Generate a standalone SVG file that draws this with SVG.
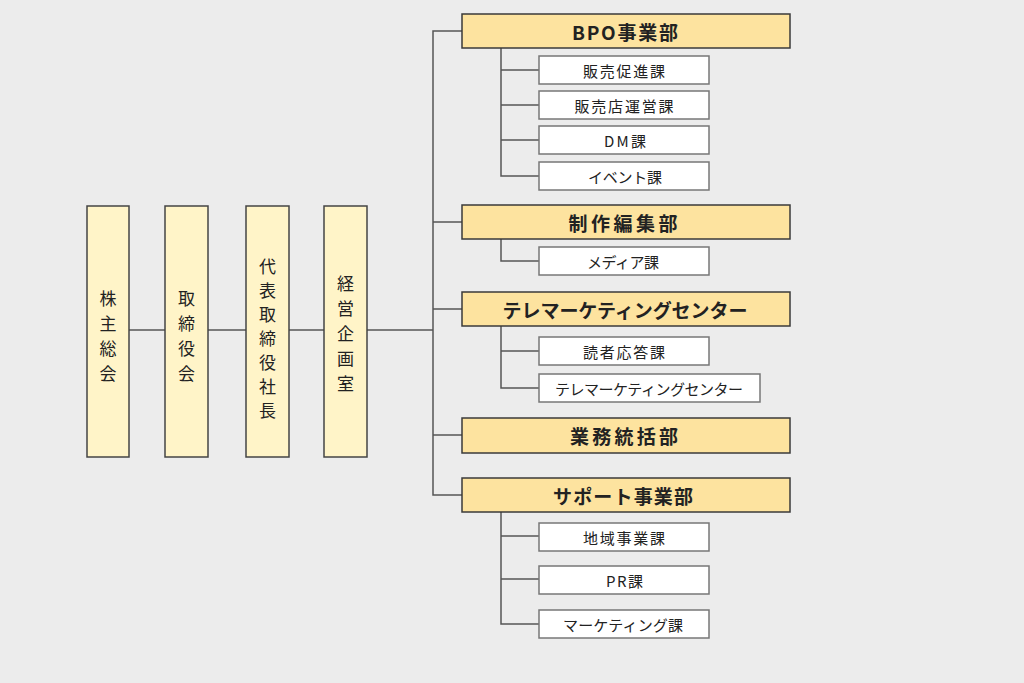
<svg xmlns="http://www.w3.org/2000/svg" width="1024" height="683" viewBox="0 0 1024 683">
<style>
.bg{fill:#ececec}
.top{fill:#fff4c8;stroke:#444;stroke-width:1.5}
.dept{fill:#fde39f;stroke:#3a3a3a;stroke-width:1.5}
.sec{fill:#fff;stroke:#777;stroke-width:1.5}
.ln{fill:none;stroke:#555;stroke-width:1.5}
text{font-family:"Noto Sans CJK JP","Noto Sans",sans-serif;fill:#222;text-anchor:middle;dominant-baseline:central}
.vt{font-size:17px}
.dt{font-size:19px;font-weight:bold}
.st{font-size:15px}
</style>
<rect class="bg" x="0" y="0" width="1024" height="683"/>
<g id="connectors">
<path class="ln" d="M129 330H165M208 330H246M289 330H324M367 330H433"/>
<path class="ln" d="M462 31H433V495H462M433 222H462M433 309H462M433 435H462"/>
<path class="ln" d="M501 48V176H539M501 70H539M501 105H539M501 140H539"/>
<path class="ln" d="M501 239V261H539"/>
<path class="ln" d="M501 326V388H539M501 351H539"/>
<path class="ln" d="M501 512V624H539M501 536H539M501 579H539"/>
</g>
<g id="n-shareholders"><rect class="top" x="87" y="206" width="42" height="251"/>
<text class="vt"><tspan x="108" y="297">株</tspan><tspan x="108" y="322">主</tspan><tspan x="108" y="347">総</tspan><tspan x="108" y="372">会</tspan></text></g>
<g id="n-board"><rect class="top" x="165" y="206" width="43" height="251"/>
<text class="vt"><tspan x="186.5" y="297">取</tspan><tspan x="186.5" y="322">締</tspan><tspan x="186.5" y="347">役</tspan><tspan x="186.5" y="372">会</tspan></text></g>
<g id="n-president"><rect class="top" x="246" y="206" width="43" height="251"/>
<text class="vt"><tspan x="267.5" y="265">代</tspan><tspan x="267.5" y="289">表</tspan><tspan x="267.5" y="313">取</tspan><tspan x="267.5" y="337">締</tspan><tspan x="267.5" y="361">役</tspan><tspan x="267.5" y="385">社</tspan><tspan x="267.5" y="409">長</tspan></text></g>
<g id="n-planning"><rect class="top" x="324" y="206" width="43" height="251"/>
<text class="vt"><tspan x="345.5" y="282">経</tspan><tspan x="345.5" y="307">営</tspan><tspan x="345.5" y="332">企</tspan><tspan x="345.5" y="357">画</tspan><tspan x="345.5" y="382">室</tspan></text></g>
<g id="d-bpo"><rect class="dept" x="462" y="14" width="328" height="34"/><text class="dt" x="625" y="31" textLength="106" lengthAdjust="spacing">BPO事業部</text></g>
<g id="s-promo"><rect class="sec" x="539" y="56" width="170" height="28"/><text class="st" x="624" y="70" textLength="82" lengthAdjust="spacing">販売促進課</text></g>
<g id="s-store"><rect class="sec" x="539" y="91" width="170" height="28"/><text class="st" x="624" y="105" textLength="99" lengthAdjust="spacing">販売店運営課</text></g>
<g id="s-dm"><rect class="sec" x="539" y="126" width="170" height="28"/><text class="st" x="625" y="140" textLength="42" lengthAdjust="spacing">DM課</text></g>
<g id="s-event"><rect class="sec" x="539" y="162" width="170" height="28"/><text class="st" x="625" y="176" textLength="74" lengthAdjust="spacing">イベント課</text></g>
<g id="d-edit"><rect class="dept" x="462" y="205" width="328" height="34"/><text class="dt" x="623" y="222" textLength="109" lengthAdjust="spacing">制作編集部</text></g>
<g id="s-media"><rect class="sec" x="539" y="247" width="170" height="28"/><text class="st" x="623" y="261" textLength="72" lengthAdjust="spacing">メディア課</text></g>
<g id="d-tele"><rect class="dept" x="462" y="292" width="328" height="34"/><text class="dt" x="625" y="309" textLength="245" lengthAdjust="spacing">テレマーケティングセンター</text></g>
<g id="s-reader"><rect class="sec" x="539" y="337" width="170" height="28"/><text class="st" x="624" y="351" textLength="82" lengthAdjust="spacing">読者応答課</text></g>
<g id="s-tele"><rect class="sec" x="539" y="374" width="221" height="28"/><text class="st" x="649" y="388" textLength="188" lengthAdjust="spacing">テレマーケティングセンター</text></g>
<g id="d-ops"><rect class="dept" x="462" y="418" width="328" height="35"/><text class="dt" x="624" y="435" textLength="108" lengthAdjust="spacing">業務統括部</text></g>
<g id="d-support"><rect class="dept" x="462" y="478" width="328" height="34"/><text class="dt" x="623" y="495" textLength="140" lengthAdjust="spacing">サポート事業部</text></g>
<g id="s-region"><rect class="sec" x="539" y="523" width="170" height="28"/><text class="st" x="624" y="537" textLength="82" lengthAdjust="spacing">地域事業課</text></g>
<g id="s-pr"><rect class="sec" x="539" y="566" width="170" height="28"/><text class="st" x="624.5" y="580" textLength="37" lengthAdjust="spacing">PR課</text></g>
<g id="s-marketing"><rect class="sec" x="539" y="610" width="170" height="28"/><text class="st" x="623" y="624" textLength="120" lengthAdjust="spacing">マーケティング課</text></g>
</svg>
